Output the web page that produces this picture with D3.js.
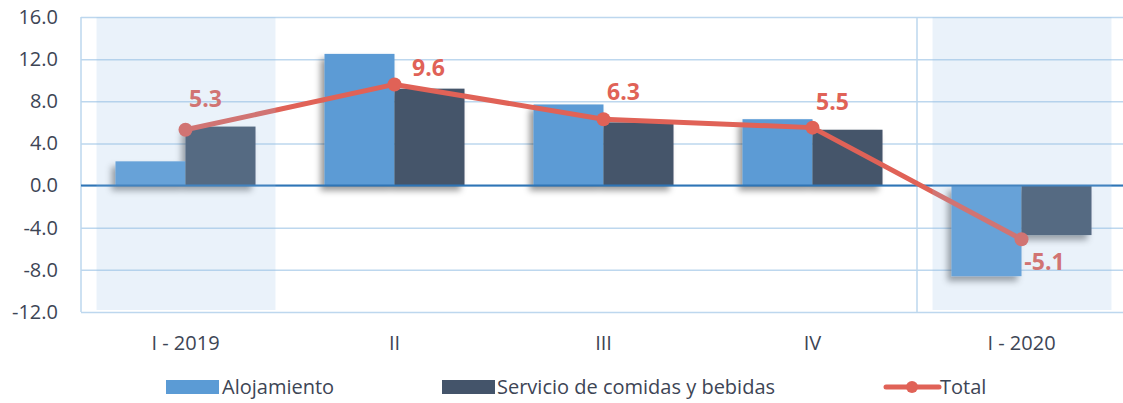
<!DOCTYPE html>
<html>
<head>
<meta charset="utf-8">
<script src="https://cdn.jsdelivr.net/npm/d3@7"></script>
<style>
  body { margin: 0; background: #fff; }
  svg text { font-family: "Open Sans", "Noto Sans", sans-serif; }
</style>
</head>
<body>
<div id="chart"></div>
<script>
// data
const categories = ["I - 2019", "II", "III", "IV", "I - 2020"];
const seriesNames = ["Alojamiento", "Servicio de comidas y bebidas"];
const alojamiento = [2.3, 12.5, 7.7, 6.3, -8.6];
const servicio = [5.6, 9.2, 6.0, 5.3, -4.7];
const total = [5.3, 9.6, 6.3, 5.5, -5.1];
const yTicks = [-12, -8, -4, 0, 4, 8, 12, 16];
const shadedCats = ["I - 2019", "I - 2020"];

// label nudges (px) for the total labels, as placed in the original
const labelOffsets = [[20, -31], [34, -16], [20, -27], [20, -26], [23, 23]];

const colors = { aloj: "#5b9bd5", serv: "#44546a", total: "#e06257", grid: "#bdd7ee", zero: "#2e75b6", text: "#3d4555" };

const W = 1123, H = 403;
const margin = { top: 17, right: -3, bottom: 91, left: 81 };

const svg = d3.select("#chart").append("svg")
  .attr("width", W)
  .attr("height", H);

const defs = svg.append("defs");
defs.append("filter")
  .attr("id", "shadow")
  .attr("x", "-20%").attr("y", "-20%").attr("width", "140%").attr("height", "140%")
  .append("feDropShadow")
    .attr("dx", -4).attr("dy", 5)
    .attr("stdDeviation", 3)
    .attr("flood-color", "#000")
    .attr("flood-opacity", 0.4);

const x0 = d3.scaleBand()
  .domain(categories)
  .range([margin.left, W - margin.right]);

const groupW = x0.step() * 0.67;
const x1 = d3.scaleBand()
  .domain(seriesNames)
  .range([0, groupW]);

const y = d3.scaleLinear()
  .domain([-12, 16])
  .range([H - margin.bottom, margin.top]);

// gridlines
const grid = svg.append("g")
  .attr("transform", `translate(${margin.left},0)`)
  .call(d3.axisLeft(y).tickValues(yTicks).tickSize(-(W - margin.left - margin.right)).tickFormat(""));
grid.select(".domain").remove();
grid.selectAll("line")
  .attr("stroke", colors.grid)
  .attr("stroke-width", 1.5);

// left frame line + separator before the last quarter
svg.append("line")
  .attr("x1", margin.left).attr("x2", margin.left)
  .attr("y1", y(16)).attr("y2", y(-12))
  .attr("stroke", colors.grid).attr("stroke-width", 1.5);
svg.append("line")
  .attr("x1", x0(categories[4])).attr("x2", x0(categories[4]))
  .attr("y1", y(16)).attr("y2", y(-12))
  .attr("stroke", colors.grid).attr("stroke-width", 1.5);

// y tick labels
const yAxis = svg.append("g")
  .attr("transform", `translate(${margin.left},0)`)
  .call(d3.axisLeft(y).tickValues(yTicks).tickSize(0).tickPadding(23).tickFormat(d => d.toFixed(1)));
yAxis.select(".domain").remove();
yAxis.selectAll("text")
  .attr("fill", colors.text)
  .style("font-size", "20px");

// x labels
const xAxis = svg.append("g")
  .attr("transform", `translate(0,${y(-12)})`)
  .call(d3.axisBottom(x0).tickSize(0).tickPadding(24));
xAxis.select(".domain").remove();
xAxis.selectAll("text")
  .attr("fill", colors.text)
  .style("font-size", "20px");

// bars
const rows = categories.map((c, i) => ({ cat: c, vals: [alojamiento[i], servicio[i]] }));
const groups = svg.append("g").selectAll("g")
  .data(rows)
  .enter()
  .append("g")
    .attr("filter", "url(#shadow)")
    .attr("transform", d => `translate(${x0(d.cat) + (x0.bandwidth() - groupW) / 2},0)`);

groups.selectAll("rect")
  .data(d => d.vals.map((v, j) => ({ name: seriesNames[j], v: v })))
  .enter()
  .append("rect")
    .attr("x", d => x1(d.name))
    .attr("width", x1.bandwidth())
    .attr("y", d => y(Math.max(0, d.v)))
    .attr("height", d => Math.abs(y(d.v) - y(0)))
    .attr("fill", (d, j) => j === 0 ? colors.aloj : colors.serv);

// zero line
svg.append("line")
  .attr("x1", margin.left).attr("x2", W)
  .attr("y1", y(0)).attr("y2", y(0))
  .attr("stroke", colors.zero).attr("stroke-width", 2);

// total line
const cx = (d, i) => x0(categories[i]) + x0.bandwidth() / 2;
const line = d3.line()
  .x(cx)
  .y(d => y(d));

svg.append("path")
  .datum(total)
  .attr("d", line)
  .attr("fill", "none")
  .attr("stroke", colors.total)
  .attr("stroke-width", 5)
  .attr("stroke-linejoin", "round");

svg.append("g").selectAll("circle")
  .data(total)
  .enter()
  .append("circle")
    .attr("cx", cx)
    .attr("cy", d => y(d))
    .attr("r", 7)
    .attr("fill", colors.total);

svg.append("g").selectAll("text")
  .data(total)
  .enter()
  .append("text")
    .attr("x", (d, i) => cx(d, i) + labelOffsets[i][0])
    .attr("y", (d, i) => y(d) + labelOffsets[i][1])
    .attr("dy", "0.35em")
    .attr("text-anchor", "middle")
    .attr("fill", colors.total)
    .style("font-size", "23px")
    .style("font-weight", "bold")
    .text(d => d.toFixed(1));

// shaded first quarters, laid over the marks like the original
svg.append("g").selectAll("rect")
  .data(shadedCats)
  .enter()
  .append("rect")
    .attr("x", d => x0(d) + x0.bandwidth() / 2 - 89)
    .attr("width", 179)
    .attr("y", y(16))
    .attr("height", y(-12) - y(16) - 2)
    .attr("fill", "rgb(150,190,230)")
    .attr("fill-opacity", 0.2);

// legend
const legend = svg.append("g").attr("transform", "translate(0,387)");
legend.append("rect").attr("x", 166).attr("y", -7).attr("width", 53).attr("height", 14).attr("fill", colors.aloj);
legend.append("text").attr("x", 222).attr("dy", "0.35em").attr("fill", colors.text).style("font-size", "20px").text(seriesNames[0]);
legend.append("rect").attr("x", 442).attr("y", -7).attr("width", 53).attr("height", 14).attr("fill", colors.serv);
legend.append("text").attr("x", 497).attr("dy", "0.35em").attr("fill", colors.text).style("font-size", "20px").text(seriesNames[1]);
legend.append("line").attr("x1", 886).attr("x2", 939).attr("stroke", colors.total).attr("stroke-width", 5).attr("stroke-linecap", "round");
legend.append("circle").attr("cx", 912).attr("r", 6).attr("fill", colors.total);
legend.append("text").attr("x", 940).attr("dy", "0.35em").attr("fill", colors.text).style("font-size", "20px").text("Total");
</script>
</body>
</html>
